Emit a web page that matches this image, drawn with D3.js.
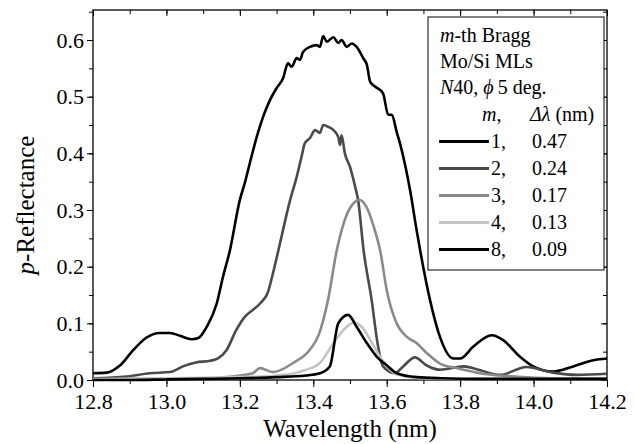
<!DOCTYPE html>
<html>
<head>
<meta charset="utf-8">
<script src="https://cdn.jsdelivr.net/npm/d3@7"></script>
<style>
  body { margin: 0; background: #fff; }
</style>
</head>
<body>
<div id="chart"></div>
<script>
// m = 1
const wl1 = [12.80, 12.837, 12.874, 12.91, 12.946, 12.982, 13.01, 13.037, 13.069, 13.087, 13.11, 13.137, 13.154, 13.173, 13.20, 13.214, 13.23, 13.246, 13.263, 13.282, 13.30, 13.318, 13.331, 13.341, 13.355, 13.364, 13.372, 13.391, 13.409, 13.418, 13.427, 13.437, 13.455, 13.468, 13.477, 13.491, 13.505, 13.518, 13.536, 13.546, 13.555, 13.568, 13.59, 13.604, 13.614, 13.627, 13.636, 13.65, 13.665, 13.68, 13.691, 13.718, 13.745, 13.781, 13.80, 13.836, 13.886, 13.918, 13.963, 13.999, 14.053, 14.108, 14.163, 14.20]
const r1 = [0.012, 0.013, 0.026, 0.053, 0.075, 0.083, 0.083, 0.078, 0.072, 0.074, 0.094, 0.135, 0.182, 0.229, 0.318, 0.349, 0.39, 0.429, 0.464, 0.494, 0.515, 0.533, 0.559, 0.553, 0.568, 0.565, 0.579, 0.588, 0.591, 0.588, 0.607, 0.597, 0.605, 0.595, 0.600, 0.588, 0.594, 0.588, 0.568, 0.556, 0.526, 0.518, 0.506, 0.468, 0.468, 0.438, 0.418, 0.38, 0.33, 0.27, 0.229, 0.141, 0.076, 0.038, 0.038, 0.059, 0.079, 0.07, 0.041, 0.024, 0.015, 0.024, 0.035, 0.038]
// m = 2
const wl2 = [12.80, 12.89, 12.955, 13.01, 13.045, 13.08, 13.12, 13.14, 13.164, 13.19, 13.214, 13.236, 13.255, 13.277, 13.29, 13.305, 13.337, 13.355, 13.368, 13.377, 13.391, 13.405, 13.418, 13.427, 13.44, 13.455, 13.468, 13.473, 13.477, 13.486, 13.50, 13.514, 13.522, 13.537, 13.559, 13.575, 13.59, 13.622, 13.645, 13.677, 13.708, 13.745, 13.81, 13.845, 13.91, 13.98, 14.053, 14.118, 14.20]
const r2 = [0.003, 0.006, 0.012, 0.014, 0.024, 0.031, 0.034, 0.038, 0.053, 0.088, 0.112, 0.124, 0.135, 0.156, 0.188, 0.229, 0.318, 0.359, 0.394, 0.418, 0.427, 0.441, 0.436, 0.45, 0.447, 0.441, 0.429, 0.415, 0.432, 0.40, 0.376, 0.341, 0.318, 0.229, 0.141, 0.065, 0.024, 0.012, 0.024, 0.04, 0.026, 0.018, 0.024, 0.019, 0.009, 0.023, 0.013, 0.009, 0.011]
// m = 3
const wl3 = [12.80, 12.90, 13.00, 13.10, 13.20, 13.235, 13.255, 13.29, 13.345, 13.39, 13.415, 13.44, 13.464, 13.49, 13.51, 13.525, 13.545, 13.565, 13.582, 13.60, 13.627, 13.655, 13.682, 13.71, 13.745, 13.79, 13.854, 13.926, 14.00, 14.10, 14.20]
const r3 = [0.002, 0.002, 0.002, 0.003, 0.008, 0.012, 0.021, 0.014, 0.03, 0.053, 0.08, 0.141, 0.229, 0.29, 0.312, 0.318, 0.305, 0.27, 0.229, 0.159, 0.10, 0.076, 0.065, 0.047, 0.029, 0.021, 0.012, 0.007, 0.004, 0.003, 0.003]
// m = 4
const wl4 = [12.80, 12.90, 13.00, 13.10, 13.20, 13.30, 13.35, 13.38, 13.418, 13.455, 13.482, 13.51, 13.532, 13.555, 13.582, 13.609, 13.645, 13.70, 13.80, 13.90, 14.00, 14.10, 14.20]
const r4 = [0.001, 0.002, 0.003, 0.004, 0.005, 0.008, 0.012, 0.018, 0.03, 0.065, 0.088, 0.101, 0.094, 0.071, 0.041, 0.018, 0.007, 0.003, 0.002, 0.002, 0.002, 0.002, 0.002]
// m = 8
const wl8 = [12.80, 12.90, 13.00, 13.10, 13.20, 13.30, 13.38, 13.418, 13.445, 13.468, 13.495, 13.518, 13.546, 13.573, 13.60, 13.627, 13.682, 13.75, 13.85, 13.95, 14.05, 14.20]
const r8 = [0.0, 0.0, 0.001, 0.002, 0.003, 0.005, 0.008, 0.012, 0.024, 0.10, 0.115, 0.094, 0.065, 0.041, 0.026, 0.012, 0.005, 0.003, 0.002, 0.002, 0.002, 0.002]

const orders = ["1", "2", "3", "4", "8"]
const widths = ["0.47", "0.24", "0.17", "0.13", "0.09"]
const xTicks = [12.8, 13.0, 13.2, 13.4, 13.6, 13.8, 14.0, 14.2]
const yTicks = [0.0, 0.1, 0.2, 0.3, 0.4, 0.5, 0.6]

const series = [
    { m: "1", wl: wl1, r: r1, color: "#000000" },
    { m: "2", wl: wl2, r: r2, color: "#4a4a4a" },
    { m: "3", wl: wl3, r: r3, color: "#8a8a8a" },
    { m: "4", wl: wl4, r: r4, color: "#c4c4c4" },
    { m: "8", wl: wl8, r: r8, color: "#000000" }
]

const serif = "'Liberation Serif', 'Times New Roman', Times, 'DejaVu Serif', serif"

var width = 635,
    height = 444
var margin = { left: 93, right: 28, top: 10, bottom: 64 }

var svg = d3.select("#chart")
    .append("svg")
    .attr("width", width)
    .attr("height", height)
    .attr("font-family", serif)

var x = d3.scaleLinear().domain([12.8, 14.2]).range([margin.left, width - margin.right])
var y = d3.scaleLinear().domain([0, 0.653]).range([height - margin.bottom, margin.top])

var fmt = d3.format(".1f")
var xMinor = d3.range(12.8, 14.25, 0.1)
var yMinor = d3.range(0, 0.66, 0.05)

// bottom axis, ticks out
svg.append("g")
    .attr("transform", "translate(0," + y(0) + ")")
    .call(d3.axisBottom(x).tickValues(xMinor).tickSize(4).tickFormat(""))
svg.append("g")
    .attr("transform", "translate(0," + y(0) + ")")
    .call(d3.axisBottom(x).tickValues(xTicks).tickSize(7).tickPadding(6).tickFormat(fmt))
    .attr("font-family", serif)
    .attr("font-size", 22)

// left axis, ticks out
svg.append("g")
    .attr("transform", "translate(" + x(12.8) + ",0)")
    .call(d3.axisLeft(y).tickValues(yMinor).tickSize(4).tickFormat(""))
svg.append("g")
    .attr("transform", "translate(" + x(12.8) + ",0)")
    .call(d3.axisLeft(y).tickValues(yTicks).tickSize(6).tickPadding(3).tickFormat(fmt))
    .attr("font-family", serif)
    .attr("font-size", 22)

// top and right mirror, ticks in
svg.append("g")
    .attr("transform", "translate(0," + y.range()[1] + ")")
    .call(d3.axisBottom(x).tickValues(xMinor).tickSize(4).tickFormat(""))
svg.append("g")
    .attr("transform", "translate(0," + y.range()[1] + ")")
    .call(d3.axisBottom(x).tickValues(xTicks).tickSize(6).tickFormat(""))
svg.append("g")
    .attr("transform", "translate(" + x(14.2) + ",0)")
    .call(d3.axisLeft(y).tickValues(yMinor).tickSize(4).tickFormat(""))
svg.append("g")
    .attr("transform", "translate(" + x(14.2) + ",0)")
    .call(d3.axisLeft(y).tickValues(yTicks).tickSize(6).tickFormat(""))

svg.selectAll(".domain").remove()
svg.selectAll(".tick line").attr("stroke", "#000").attr("stroke-width", 1)

svg.append("rect")
    .attr("x", x(12.8))
    .attr("y", y.range()[1])
    .attr("width", x(14.2) - x(12.8))
    .attr("height", y(0) - y.range()[1])
    .attr("fill", "none")
    .attr("stroke", "#000")
    .attr("stroke-width", 1.3)

// curves
var line = d3.line()
    .x(function (d) { return x(d[0]) })
    .y(function (d) { return y(d[1]) })
    .curve(d3.curveMonotoneX)

svg.selectAll(".curve")
    .data(series)
    .enter().append("path")
    .attr("class", "curve")
    .attr("d", function (s) { return line(s.wl.map(function (w, i) { return [w, s.r[i]] })) })
    .attr("fill", "none")
    .attr("stroke", function (s) { return s.color })
    .attr("stroke-width", 2.6)
    .attr("stroke-linejoin", "round")

// legend
var leg = svg.append("g").attr("font-size", 20)
leg.append("rect")
    .attr("x", 428).attr("y", 17)
    .attr("width", 176).attr("height", 253)
    .attr("fill", "#fff")
    .attr("stroke", "#000")
    .attr("stroke-width", 1)

var t1 = leg.append("text").attr("x", 440).attr("y", 42)
t1.append("tspan").attr("font-style", "italic").text("m")
t1.append("tspan").text("-th Bragg")
leg.append("text").attr("x", 440).attr("y", 68).text("Mo/Si MLs")
var t3 = leg.append("text").attr("x", 440).attr("y", 94)
t3.append("tspan").attr("font-style", "italic").text("N")
t3.append("tspan").text("40, ")
t3.append("tspan").attr("font-style", "italic").text("\u03d5")
t3.append("tspan").text("\u20095 deg.")

var t4 = leg.append("text").attr("x", 482).attr("y", 121)
t4.append("tspan").attr("font-style", "italic").text("m")
t4.append("tspan").text(",")
var t5 = leg.append("text").attr("x", 530).attr("y", 121)
t5.append("tspan").attr("font-style", "italic").text("\u0394\u03bb")
t5.append("tspan").text(" (nm)")

var rows = leg.selectAll(".row")
    .data(series)
    .enter().append("g")
    .attr("class", "row")
    .attr("transform", function (d, i) { return "translate(0," + (148 + i * 27) + ")" })
rows.append("line")
    .attr("x1", 439).attr("x2", 489)
    .attr("y1", -6.5).attr("y2", -6.5)
    .attr("stroke", function (d) { return d.color })
    .attr("stroke-width", 3)
rows.append("text")
    .attr("x", 491)
    .text(function (d, i) { return orders[i] + "," })
rows.append("text")
    .attr("x", 532)
    .text(function (d, i) { return widths[i] })

// axis titles
svg.append("text")
    .attr("x", (x(12.8) + x(14.2)) / 2)
    .attr("y", 437)
    .attr("text-anchor", "middle")
    .attr("font-size", 25)
    .text("Wavelength (nm)")

var yl = svg.append("text")
    .attr("transform", "translate(34," + 205 + ") rotate(-90)")
    .attr("text-anchor", "middle")
    .attr("font-size", 25)
yl.append("tspan").attr("font-style", "italic").text("p")
yl.append("tspan").text("-Reflectance")
</script>
</body>
</html>
